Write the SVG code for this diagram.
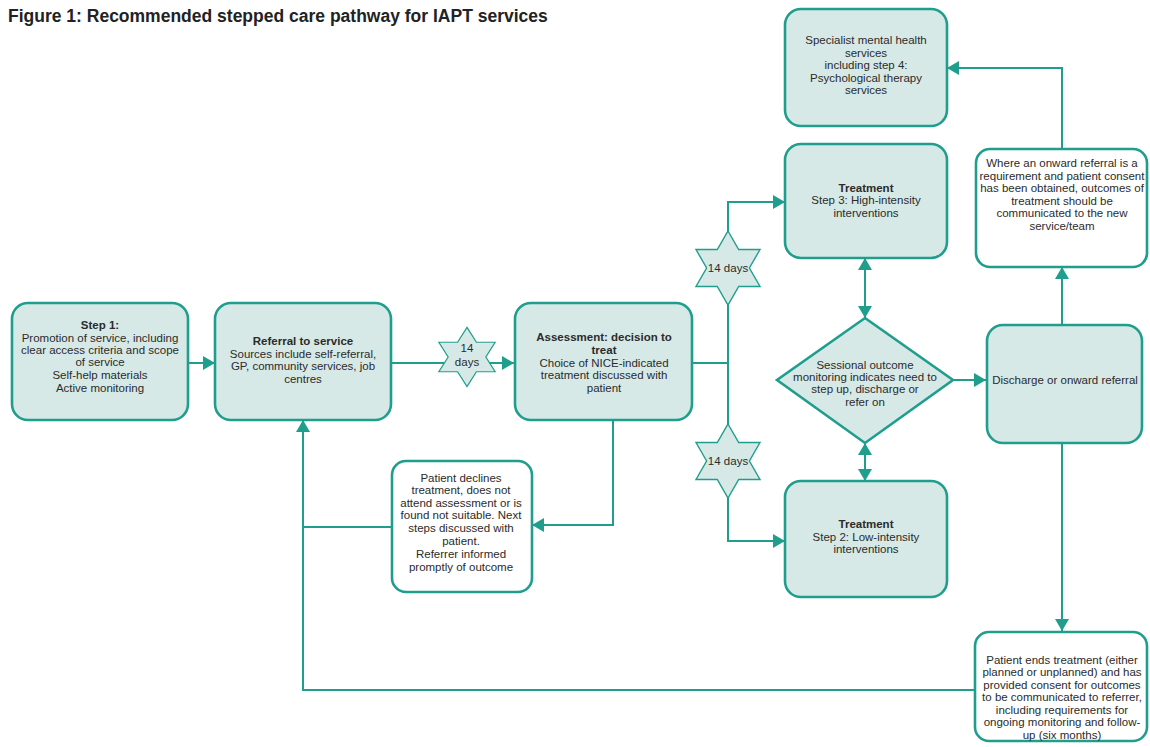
<svg xmlns="http://www.w3.org/2000/svg" width="1150" height="747" viewBox="0 0 1150 747">
  <style>
    .box { fill: #d6e9e7; stroke: #1f9e8d; stroke-width: 2.6; }
    .note { fill: #ffffff; stroke: #1f9e8d; stroke-width: 2.6; }
    .star { fill: #d6e9e7; stroke: #1f9e8d; stroke-width: 1.4; }
    .wire { fill: none; stroke: #1f9e8d; stroke-width: 2; }
    text { font-family: "Liberation Sans", Arial, sans-serif; font-size: 11.5px; fill: #2b2b2b; text-anchor: middle; }
    .b { font-weight: bold; }
    .title { font-size: 17.5px; font-weight: bold; text-anchor: start; fill: #222; }
  </style>
  <defs>
    <marker id="arr" viewBox="0 0 12 14" refX="12" refY="7" markerWidth="12" markerHeight="14" markerUnits="userSpaceOnUse" orient="auto-start-reverse">
      <path d="M0,0 L12,7 L0,14 Z" fill="#1f9e8d"/>
    </marker>
    <polygon id="hexstar" points="0,-37 10.7,-18.5 32,-18.5 21.4,0 32,18.5 10.7,18.5 0,37 -10.7,18.5 -32,18.5 -21.4,0 -32,-18.5 -10.7,-18.5"/>
  </defs>

  <text class="title" x="8" y="22">Figure 1: Recommended stepped care pathway for IAPT services</text>

  <!-- connectors -->
  <g id="connectors">
    <path class="wire" d="M188,363 H215" marker-end="url(#arr)"/>
    <path class="wire" d="M391,363 H514" marker-end="url(#arr)"/>
    <path class="wire" d="M692,363 H728"/>
    <path class="wire" d="M728,363 V202 H785" marker-end="url(#arr)"/>
    <path class="wire" d="M728,363 V541 H785" marker-end="url(#arr)"/>
    <path class="wire" d="M613,420 V525 H532" marker-end="url(#arr)"/>
    <path class="wire" d="M392,527 H303"/>
    <path class="wire" d="M975,690 H303 V420" marker-end="url(#arr)"/>
    <path class="wire" d="M865,258 V318" marker-start="url(#arr)" marker-end="url(#arr)"/>
    <path class="wire" d="M865,443 V481" marker-start="url(#arr)" marker-end="url(#arr)"/>
    <path class="wire" d="M953,380 H986" marker-end="url(#arr)"/>
    <path class="wire" d="M1062,325 V267" marker-end="url(#arr)"/>
    <path class="wire" d="M1062,149 V68 H947" marker-end="url(#arr)"/>
    <path class="wire" d="M1062,443 V631" marker-end="url(#arr)"/>
  </g>

  <!-- 14-day waiting markers -->
  <g id="wait-referral">
    <use href="#hexstar" class="star" transform="translate(467,357) scale(0.88,0.8)"/>
    <text x="467" y="352">14</text>
    <text x="467" y="366">days</text>
  </g>
  <g id="wait-high">
    <use href="#hexstar" class="star" transform="translate(728,268)"/>
    <text x="728" y="272">14 days</text>
  </g>
  <g id="wait-low">
    <use href="#hexstar" class="star" transform="translate(728,461)"/>
    <text x="728" y="465">14 days</text>
  </g>

  <g id="step1">
    <rect class="box" x="12" y="303" width="176" height="117" rx="16"/>
    <text class="b" x="100" y="329">Step 1:</text>
    <text x="100" y="342">Promotion of service, including</text>
    <text x="100" y="354">clear access criteria and scope</text>
    <text x="100" y="366">of service</text>
    <text x="100" y="379">Self-help materials</text>
    <text x="100" y="392">Active monitoring</text>
  </g>

  <g id="referral">
    <rect class="box" x="215" y="303" width="176" height="117" rx="16"/>
    <text class="b" x="303" y="345">Referral to service</text>
    <text x="303" y="358">Sources include self-referral,</text>
    <text x="303" y="370">GP, community services, job</text>
    <text x="303" y="383">centres</text>
  </g>

  <g id="assessment">
    <rect class="box" x="515" y="303" width="177" height="117" rx="16"/>
    <text class="b" x="604" y="341">Assessment: decision to</text>
    <text class="b" x="604" y="354">treat</text>
    <text x="604" y="367">Choice of NICE-indicated</text>
    <text x="604" y="379">treatment discussed with</text>
    <text x="604" y="392">patient</text>
  </g>

  <g id="declines">
    <rect class="note" x="392" y="461" width="140" height="131" rx="14"/>
    <text x="461" y="482">Patient declines</text>
    <text x="461" y="494">treatment, does not</text>
    <text x="461" y="507">attend assessment or is</text>
    <text x="461" y="519">found not suitable. Next</text>
    <text x="461" y="532">steps discussed with</text>
    <text x="461" y="545">patient.</text>
    <text x="461" y="558">Referrer informed</text>
    <text x="461" y="571">promptly of outcome</text>
  </g>

  <g id="specialist">
    <rect class="box" x="785" y="9" width="162" height="117" rx="16"/>
    <text x="866" y="44">Specialist mental health</text>
    <text x="866" y="57">services</text>
    <text x="866" y="69">including step 4:</text>
    <text x="866" y="82">Psychological therapy</text>
    <text x="866" y="94">services</text>
  </g>

  <g id="high-intensity">
    <rect class="box" x="785" y="144" width="162" height="114" rx="16"/>
    <text class="b" x="866" y="192">Treatment</text>
    <text x="866" y="204">Step 3: High-intensity</text>
    <text x="866" y="217">interventions</text>
  </g>

  <g id="monitoring">
    <polygon class="box" points="865,318 953,380 865,443 777,380"/>
    <text x="865" y="369">Sessional outcome</text>
    <text x="865" y="381">monitoring indicates need to</text>
    <text x="865" y="393">step up, discharge or</text>
    <text x="865" y="406">refer on</text>
  </g>

  <g id="low-intensity">
    <rect class="box" x="785" y="481" width="162" height="116" rx="16"/>
    <text class="b" x="866" y="528">Treatment</text>
    <text x="866" y="541">Step 2: Low-intensity</text>
    <text x="866" y="553">interventions</text>
  </g>

  <g id="discharge">
    <rect class="box" x="987" y="325" width="155" height="118" rx="16"/>
    <text x="1065" y="384">Discharge or onward referral</text>
  </g>

  <g id="onward">
    <rect class="note" x="976" y="149" width="171" height="118" rx="14"/>
    <text x="1062" y="167">Where an onward referral is a</text>
    <text x="1062" y="180">requirement and patient consent</text>
    <text x="1062" y="192">has been obtained, outcomes of</text>
    <text x="1062" y="205">treatment should be</text>
    <text x="1062" y="217">communicated to the new</text>
    <text x="1062" y="230">service/team</text>
  </g>

  <g id="patient-ends">
    <rect class="note" x="975" y="632" width="172" height="109" rx="14"/>
    <text x="1062" y="664">Patient ends treatment (either</text>
    <text x="1062" y="676">planned or unplanned) and has</text>
    <text x="1062" y="689">provided consent for outcomes</text>
    <text x="1062" y="701">to be communicated to referrer,</text>
    <text x="1062" y="714">including requirements for</text>
    <text x="1062" y="726">ongoing monitoring and follow-</text>
    <text x="1062" y="739">up (six months)</text>
  </g>
</svg>
